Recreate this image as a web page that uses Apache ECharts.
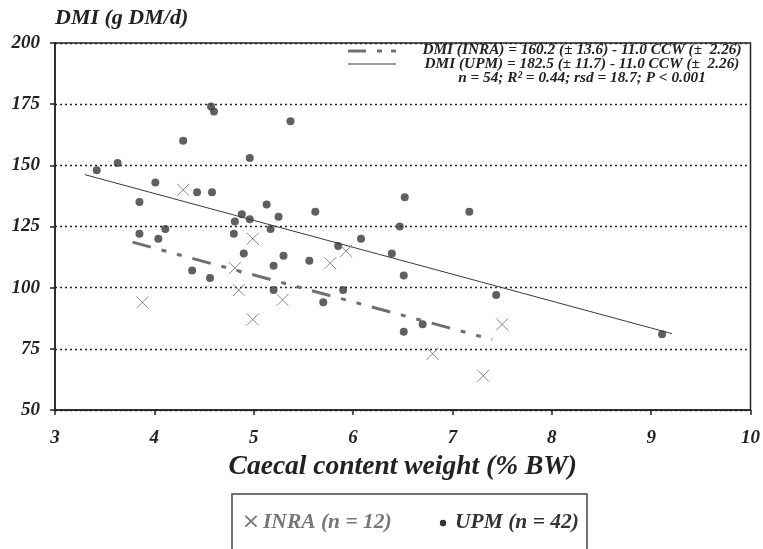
<!DOCTYPE html>
<html>
<head>
<meta charset="utf-8">
<script src="https://cdn.jsdelivr.net/npm/echarts@6/dist/echarts.min.js"></script>
<style>html,body{margin:0;padding:0;background:#fff}#c{width:763px;height:549px}</style>
</head>
<body>
<div id="c"></div>
<script>
// ---- data ----
const upmPoints = [
  [3.42,148],[3.63,151],[4.29,160],[4.96,153],[4.01,143],[4.43,139],[4.58,139],
  [3.85,135],[4.88,130],[4.96,128],[4.81,127],[3.85,122],[4.11,124],[4.04,120],
  [4.80,122],[4.90,114],[4.38,107],[4.56,104],[4.57,174],[4.60,172],[5.37,168],
  [5.13,134],[5.25,129],[5.62,131],[5.17,124],[6.47,125],[6.52,137],[7.17,131],
  [6.51,105],[7.44,97],[6.51,82],[6.70,85],[9.11,81],[6.08,120],[5.85,117],
  [6.39,114],[5.30,113],[5.56,111],[5.20,109],[5.20,99],[5.90,99],[5.70,94]
];
const inraPoints = [
  [4.29,140],[4.99,120],[4.81,108],[4.85,99],[3.88,94],[4.99,87],
  [5.93,115],[5.77,110],[5.29,95],[7.50,85],[6.80,73],[7.31,64]
];
const upmLine = [[3.30,146.2],[9.21,81.2]];
const inraLine = [[3.78,118.6],[7.40,78.8]];
const xTicks = {min:3, max:10, interval:1};
const yTicks = {min:50, max:200, interval:25};
const eqLines = [
  'DMI (INRA) = 160.2 (\u00B1 13.6) - 11.0 CCW (\u00B1  2.26)',
  'DMI (UPM) = 182.5 (\u00B1 11.7) - 11.0 CCW (\u00B1  2.26)',
  'n = 54; R\u00B2 = 0.44; rsd = 18.7; P < 0.001'
];
const legendNames = ['INRA (n = 12)','UPM (n = 42)'];
const axisNames = {x:'Caecal content weight (% BW)', y:'DMI (g DM/d)'};

const FONT = '"Liberation Serif","Times New Roman",serif';
const chart = echarts.init(document.getElementById('c'));
const txt = (size, color) => ({fontFamily:FONT, fontWeight:'bold', fontStyle:'italic', fontSize:size, color:color||'#222'});
const EQF = 'italic bold 15.3px ' + FONT;
const LGF = 'italic bold 21.5px ' + FONT;

chart.setOption({
  animation:false,
  backgroundColor:'#fff',
  grid:{left:55, right:12, top:43, bottom:139, show:true, borderColor:'#222', borderWidth:1.5, backgroundColor:'transparent'},
  xAxis:{
    type:'value', min:xTicks.min, max:xTicks.max, interval:xTicks.interval,
    name:axisNames.x, nameLocation:'middle', nameGap:43,
    nameTextStyle:txt(27.5,'#222'),
    axisLine:{show:true, lineStyle:{color:'#222', width:1.5}},
    axisTick:{show:true, inside:false, length:5, lineStyle:{color:'#222', width:1.5}},
    axisLabel:Object.assign(txt(19,'#222'), {margin:19}),
    splitLine:{show:false}
  },
  yAxis:{
    type:'value', min:yTicks.min, max:yTicks.max, interval:yTicks.interval,
    name:axisNames.y, nameLocation:'end', nameGap:14,
    nameTextStyle:Object.assign(txt(22,'#222'), {align:'left', verticalAlign:'bottom'}),
    axisLine:{show:true, lineStyle:{color:'#222', width:1.5}},
    axisTick:{show:true, inside:false, length:5, lineStyle:{color:'#222', width:1.5}},
    axisLabel:Object.assign(txt(19,'#222'), {margin:15}),
    splitLine:{show:true, lineStyle:{color:'#222', width:1.4, type:[2,3]}}
  },
  series:[
    {name:'UPM regression', type:'line', data:upmLine, symbol:'none', silent:true,
     lineStyle:{color:'#3a3a3a', width:1}, z:3},
    {name:'INRA regression', type:'line', data:inraLine, symbol:'none', silent:true,
     lineStyle:{color:'#707070', width:3, type:[19,11,5,11,5,11]}, z:3},
    {name:legendNames[1], type:'scatter', data:upmPoints, symbol:'circle', symbolSize:8,
     itemStyle:{color:'#383838'}, z:5},
    {name:legendNames[0], type:'scatter', data:inraPoints, symbol:'path://M0,0L10,10M10,0L0,10', symbolSize:12,
     itemStyle:{color:'transparent', borderColor:'#6a6a6a', borderWidth:1}, z:5}
  ],
  graphic:[
    // equation annotation
    {type:'line', shape:{x1:348, y1:51, x2:366, y2:51}, style:{stroke:'#707070', lineWidth:3}},
    {type:'line', shape:{x1:377, y1:51, x2:382, y2:51}, style:{stroke:'#707070', lineWidth:3}},
    {type:'line', shape:{x1:391, y1:51, x2:396, y2:51}, style:{stroke:'#707070', lineWidth:3}},
    {type:'line', shape:{x1:348, y1:64, x2:396, y2:64}, style:{stroke:'#3a3a3a', lineWidth:1}},
    {type:'text', x:582, y:50, style:{text:eqLines[0], textAlign:'center', textVerticalAlign:'middle', font:EQF, fill:'#222'}},
    {type:'text', x:582, y:64, style:{text:eqLines[1], textAlign:'center', textVerticalAlign:'middle', font:EQF, fill:'#222'}},
    {type:'text', x:582, y:78, style:{text:eqLines[2], textAlign:'center', textVerticalAlign:'middle', font:EQF, fill:'#222'}},
    // legend box
    {type:'rect', shape:{x:232, y:494, width:355, height:80}, style:{fill:'#fff', stroke:'#444', lineWidth:1.5}},
    {type:'text', x:251, y:522, style:{text:'\u00D7', textAlign:'center', textVerticalAlign:'middle', font:'22px "DejaVu Sans",sans-serif', fill:'#777'}},
    {type:'text', x:263, y:522, style:{text:legendNames[0], textAlign:'left', textVerticalAlign:'middle', font:LGF, fill:'#777'}},
    {type:'circle', shape:{cx:443, cy:523, r:3.2}, style:{fill:'#333'}},
    {type:'text', x:455, y:522, style:{text:legendNames[1], textAlign:'left', textVerticalAlign:'middle', font:LGF, fill:'#333'}}
  ]
});
</script>
</body>
</html>
